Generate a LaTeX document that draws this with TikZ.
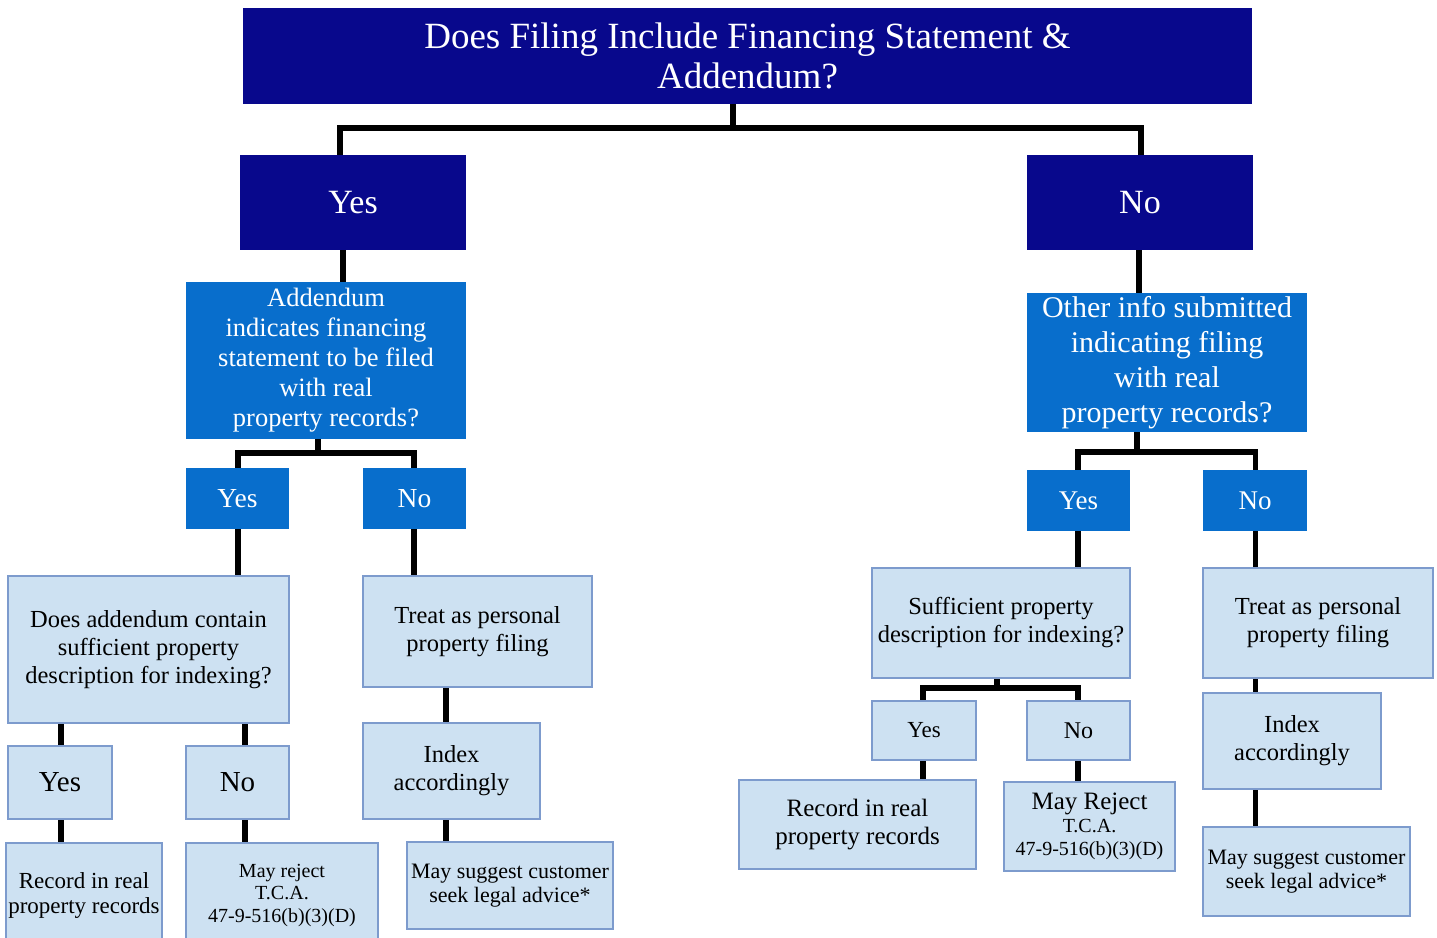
\documentclass[tikz,border=0pt]{standalone}
\usepackage{fontspec}
\setmainfont{Liberation Serif}
\usetikzlibrary{backgrounds}
\definecolor{navy}{RGB}{8,8,140}
\definecolor{midblue}{RGB}{8,110,204}
\definecolor{lightfill}{RGB}{205,225,242}
\definecolor{lborder}{RGB}{125,155,205}
\tikzset{
  base/.style={rectangle, inner sep=0pt, align=center},
  navybox/.style={base, fill=navy, text=white},
  bluebox/.style={base, fill=midblue, text=white},
  lbox/.style={base, fill=lightfill, draw=lborder, line width=1.3pt, text=black},
  conn/.style={line width=5.5pt, draw=black, line join=miter, line cap=butt},
}
\newcommand{\fsz}[2]{\fontsize{#1}{#2}\selectfont}
\begin{document}
\begin{tikzpicture}[x=1pt,y=-1pt]
\useasboundingbox (0,0) rectangle (1437,937);
% ---------- level 0/1
\node[navybox, minimum width=1009pt, minimum height=96pt, font=\fsz{37}{40}] (top) at (747.5,56) {Does Filing Include Financing Statement \&\\Addendum?};
\node[navybox, minimum width=226pt, minimum height=95pt, font=\fsz{34}{38}] (yesA) at (353,202.5) {Yes};
\node[navybox, minimum width=226pt, minimum height=95pt, font=\fsz{34}{38}] (noA) at (1140,202.5) {No};
% ---------- left branch
\node[bluebox, minimum width=280pt, minimum height=157pt, font=\fsz{26.5}{30}] (addA) at (326,360.5) {Addendum\\indicates financing\\statement to be filed\\with real\\property records?};
\node[bluebox, minimum width=103pt, minimum height=61pt, font=\fsz{27.5}{31}] (yesB) at (237.5,498.5) {Yes};
\node[bluebox, minimum width=103pt, minimum height=61pt, font=\fsz{27.5}{31}] (noB) at (414.5,498.5) {No};
\node[lbox, minimum width=281pt, minimum height=147pt, font=\fsz{24.5}{28}] (suffL) at (148.5,649.5) {Does addendum contain\\sufficient property\\description for indexing?};
\node[lbox, minimum width=229pt, minimum height=111pt, font=\fsz{24.5}{28}] (treatL) at (477.5,631.5) {Treat as personal\\property filing};
\node[lbox, minimum width=177pt, minimum height=96pt, font=\fsz{24.5}{28}] (indexL) at (451.5,771) {Index\\accordingly};
\node[lbox, minimum width=206pt, minimum height=87pt, font=\fsz{22}{23.5}] (suggL) at (510,885.5) {May suggest customer\\seek legal advice*};
\node[lbox, minimum width=104pt, minimum height=73pt, font=\fsz{29}{32}] (yesC) at (60,782.5) {Yes};
\node[lbox, minimum width=103pt, minimum height=73pt, font=\fsz{29}{32}] (noC) at (237.5,782.5) {No};
\node[lbox, minimum width=156pt, minimum height=104pt, font=\fsz{23}{25}] (recL) at (84,895) {Record in real\\property records};
\node[lbox, minimum width=192pt, minimum height=104pt, font=\fsz{20}{22.5}] (rejL) at (282,895) {May reject\\T.C.A.\\47-9-516(b)(3)(D)};
% ---------- right branch
\node[bluebox, minimum width=280pt, minimum height=139pt, font=\fsz{30}{35}] (otherR) at (1167,362.5) {Other info submitted\\indicating filing\\with real\\property records?};
\node[bluebox, minimum width=103pt, minimum height=61pt, font=\fsz{27}{31}] (yesD) at (1078.5,500.5) {Yes};
\node[bluebox, minimum width=104pt, minimum height=61pt, font=\fsz{27}{31}] (noD) at (1255,500.5) {No};
\node[lbox, minimum width=258pt, minimum height=110pt, font=\fsz{24.5}{28}] (suffR) at (1001,623) {Sufficient property\\description for indexing?};
\node[lbox, minimum width=104pt, minimum height=59pt, font=\fsz{23}{26}] (yesE) at (924,730.5) {Yes};
\node[lbox, minimum width=103pt, minimum height=59pt, font=\fsz{24}{26}] (noE) at (1078.5,730.5) {No};
\node[lbox, minimum width=237pt, minimum height=89pt, font=\fsz{25}{28}] (recR) at (857.5,824.5) {Record in real\\property records};
\node[lbox, minimum width=171pt, minimum height=89pt, font=\fsz{20}{23}] (rejR) at (1089.5,826.5) {{\fsz{25}{25}May Reject}\\T.C.A.\\47-9-516(b)(3)(D)};
\node[lbox, minimum width=230pt, minimum height=110pt, font=\fsz{24.5}{28}] (treatR) at (1318,623) {Treat as personal\\property filing};
\node[lbox, minimum width=178pt, minimum height=96pt, font=\fsz{24.5}{28}] (indexR) at (1292,741) {Index\\accordingly};
\node[lbox, minimum width=207pt, minimum height=89pt, font=\fsz{22}{23.5}] (suggR) at (1306.5,871.5) {May suggest customer\\seek legal advice*};
% ---------- junction coordinates
\coordinate (jT) at (733,128);
\coordinate (jTL) at (340,128);
\coordinate (jTR) at (1141,128);
\coordinate (vYA) at (343,0);
\coordinate (vNA) at (1139,0);
\coordinate (jA) at (318,453);
\coordinate (jAL) at (238,453);
\coordinate (jAR) at (414,453);
\coordinate (vTL) at (446,0);
\coordinate (vCL) at (61,0);
\coordinate (vCR) at (245,0);
\coordinate (jO) at (1137,452);
\coordinate (jOL) at (1078,452);
\coordinate (jOR) at (1255.5,452);
\coordinate (jS) at (997,688);
\coordinate (jSL) at (923,688);
\coordinate (jSR) at (1078,688);
% ---------- connectors
\begin{scope}[on background layer]
\draw[conn] (top.south -| jT) -- (jT);
\draw[conn] (yesA.north -| jTL) -- (jTL) -- (jTR) -- (noA.north -| jTR);
\draw[conn] (yesA.south -| vYA) -- (addA.north -| vYA);
\draw[conn] (noA.south -| vNA) -- (otherR.north -| vNA);
% left
\draw[conn] (addA.south -| jA) -- (jA);
\draw[conn] (yesB.north -| jAL) -- (jAL) -- (jAR) -- (noB.north -| jAR);
\draw[conn] (yesB.south -| jAL) -- (suffL.north -| jAL);
\draw[conn] (noB.south -| jAR) -- (treatL.north -| jAR);
\draw[conn] (treatL.south -| vTL) -- (indexL.north -| vTL);
\draw[conn] (indexL.south -| vTL) -- (suggL.north -| vTL);
\draw[conn] (suffL.south -| vCL) -- (yesC.north -| vCL);
\draw[conn] (suffL.south -| vCR) -- (noC.north -| vCR);
\draw[conn] (yesC.south -| vCL) -- (recL.north -| vCL);
\draw[conn] (noC.south -| vCR) -- (rejL.north -| vCR);
% right
\draw[conn] (otherR.south -| jO) -- (jO);
\draw[conn] (yesD.north -| jOL) -- (jOL) -- (jOR) -- (noD.north -| jOR);
\draw[conn] (yesD.south -| jOL) -- (suffR.north -| jOL);
\draw[conn] (noD.south -| jOR) -- (treatR.north -| jOR);
\draw[conn] (treatR.south -| jOR) -- (indexR.north -| jOR);
\draw[conn] (indexR.south -| jOR) -- (suggR.north -| jOR);
\draw[conn] (suffR.south -| jS) -- (jS);
\draw[conn] (yesE.north -| jSL) -- (jSL) -- (jSR) -- (noE.north -| jSR);
\draw[conn] (yesE.south -| jSL) -- (recR.north -| jSL);
\draw[conn] (noE.south -| jSR) -- (rejR.north -| jSR);
\end{scope}
\end{tikzpicture}
\end{document}
